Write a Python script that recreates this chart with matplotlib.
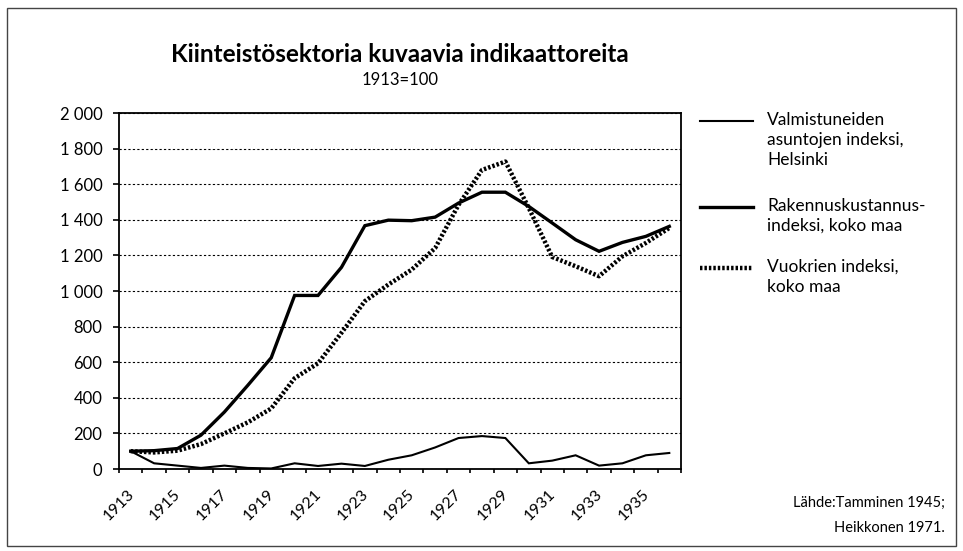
import matplotlib
matplotlib.use("Agg")
import matplotlib.pyplot as plt
from matplotlib.lines import Line2D
from matplotlib.ticker import FuncFormatter, MultipleLocator, FixedLocator
import matplotlib.transforms as mtransforms
import numpy as np

years = list(range(1913, 1937))
valmistuneet = [100, 32, 19, 6, 19, 6, 3, 32, 17, 30, 17, 52, 77, 121, 174, 185, 174, 32, 47, 77, 19, 32, 77, 90]
rakennus = [100, 103, 115, 190, 320, 470, 625, 975, 975, 1133, 1367, 1398, 1395, 1415, 1494, 1555, 1555, 1475, 1382, 1288, 1223, 1273, 1307, 1363]
vuokrat = [100, 93, 103, 140, 200, 262, 340, 510, 594, 765, 943, 1036, 1120, 1241, 1484, 1680, 1727, 1466, 1191, 1139, 1083, 1195, 1270, 1354]

title = "Kiinteistösektoria kuvaavia indikaattoreita"
subtitle = "1913=100"
labels = ["Valmistuneiden\nasuntojen indeksi,\nHelsinki",
          "Rakennuskustannus-\nindeksi, koko maa",
          "Vuokrien indeksi,\nkoko maa"]
source = ["Lähde:Tamminen 1945;", "Heikkonen 1971."]

W, H = 963, 551
FONT = "Lato"
plt.rcParams['font.family'] = [FONT, 'DejaVu Sans']

fig = plt.figure(figsize=(W / 100, H / 100), dpi=100)

def fx(px):
    return px / W

def fy(py):
    return 1 - py / H

L, R, T, B = 119, 681, 113, 469
ax = fig.add_axes([fx(L), fy(B), fx(R) - fx(L), fy(T) - fy(B)])

n = len(years)
x = np.arange(n)
ax.plot(x, valmistuneet, color='black', lw=1.5, solid_joinstyle='miter')
ax.plot(x, rakennus, color='black', lw=2.4, solid_joinstyle='miter')
ax.plot(x, vuokrat, color='black', lw=3.2, linestyle=(0, (0.55, 0.45)), dash_capstyle='butt')

ax.set_xlim(-0.5, n - 0.5)
ax.set_ylim(0, 2000)
ax.yaxis.set_major_locator(MultipleLocator(200))
ax.yaxis.set_major_formatter(FuncFormatter(lambda v, p: f"{int(v):,}".replace(",", " ")))
ax.grid(axis='y', color='black', lw=0.8, linestyle=(0, (2, 2)))
ax.set_axisbelow(True)

ax.xaxis.set_major_locator(FixedLocator(np.arange(-0.5, n, 1.0)))
ax.xaxis.set_minor_locator(FixedLocator(x[::2]))
ax.set_xticklabels([])
ax.set_xticklabels([str(y) for y in years[::2]], minor=True, rotation=45, ha='right',
                   rotation_mode='anchor', fontsize=11.5)
ax.tick_params(axis='x', which='major', length=3, width=1.2, direction='out')
ax.tick_params(axis='x', which='minor', length=0, pad=13)
ax.tick_params(axis='y', length=4.5, width=1.2, direction='out', labelsize=12, pad=7.5)
off = mtransforms.ScaledTranslation(-4 / 100, 0, fig.dpi_scale_trans)
for lab in ax.get_xticklabels(minor=True):
    lab.set_transform(lab.get_transform() + off)
for s in ax.spines.values():
    s.set_linewidth(1.3)

# Title
fig.text(fx(400), fy(55), title, ha='center', va='center', fontsize=17.5, fontweight='bold')
fig.text(fx(400), fy(80), subtitle, ha='center', va='center', fontsize=12)

# Legend (manual)
entries = [(121, dict(lw=1.5)), (207, dict(lw=2.4)), (268, dict(lw=3.2, linestyle=(0, (0.55, 0.45)), dash_capstyle='butt'))]
for (py, style), lab in zip(entries, labels):
    fig.add_artist(Line2D([fx(700), fx(753)], [fy(py), fy(py)], color='black', transform=fig.transFigure, **style))
    fig.text(fx(767), fy(py - 9), lab, ha='left', va='top', fontsize=12.5, linespacing=1.3)

fig.text(fx(945), fy(503), source[0], ha='right', va='center', fontsize=10.5)
fig.text(fx(945), fy(528), source[1], ha='right', va='center', fontsize=10.5)

# Frame
fig.add_artist(plt.Rectangle((fx(7), fy(546)), fx(956) - fx(7), fy(8) - fy(546), fill=False,
                             edgecolor='#444444', lw=1.0, transform=fig.transFigure))

fig.savefig("out.png", dpi=100)
